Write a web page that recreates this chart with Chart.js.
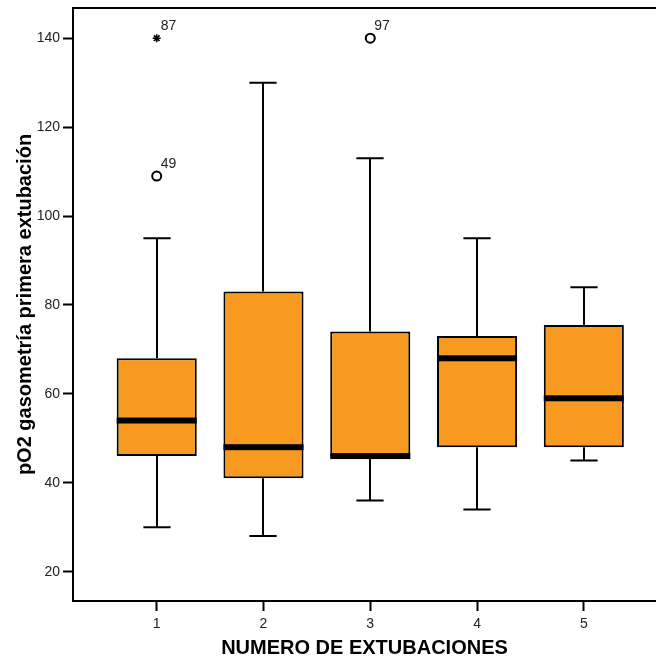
<!DOCTYPE html>
<html>
<head>
<meta charset="utf-8">
<script src="https://cdn.jsdelivr.net/npm/chart.js@4.4.1/dist/chart.umd.min.js"></script>
<style>
  html, body { margin: 0; padding: 0; background: #ffffff; }
  #wrap { width: 656px; height: 660px; }
</style>
</head>
<body>
<div id="wrap"><canvas id="chart"></canvas></div>
<script>
// Number of extubations (groups) and the five-number summary per group
const categories  = [1, 2, 3, 4, 5];
const whiskerLow  = [30, 28, 36, 34, 45];
const q1          = [46, 41, 46, 48, 48];
const median      = [54, 48, 46, 68, 59];
const q3          = [68, 83, 74, 73, 75.5];
const whiskerHigh = [95, 130, 113, 95, 84];

// Outliers: open circles and extreme values (stars), with case numbers
const circleGroup = [1, 3];
const circleValue = [109, 140];
const circleCase  = ['49', '97'];
const starGroup   = [1];
const starValue   = [140];
const starCase    = ['87'];

const yTicks = [20, 40, 60, 80, 100, 120, 140];
const xTicks = [1, 2, 3, 4, 5];

const FONT = "'Liberation Sans', Arial, sans-serif";
Chart.defaults.font.family = FONT;
Chart.defaults.color = '#222222';

// Whiskers, caps, medians, outlier labels and the top frame line
const boxParts = {
  id: 'boxParts',
  beforeDatasetsDraw(chart) {
    const ctx = chart.ctx;
    const y = chart.scales.y;
    const bars = chart.getDatasetMeta(0).data;
    ctx.save();
    ctx.strokeStyle = '#000000';
    ctx.lineWidth = 2;
    bars.forEach((bar, i) => {
      const cx = Math.round(bar.x);
      const half = bar.width * 0.17;
      const yLo = y.getPixelForValue(whiskerLow[i]);
      const yQ1 = y.getPixelForValue(q1[i]);
      const yQ3 = y.getPixelForValue(q3[i]);
      const yHi = y.getPixelForValue(whiskerHigh[i]);
      ctx.beginPath();
      ctx.moveTo(cx, yQ3); ctx.lineTo(cx, yHi);
      ctx.moveTo(cx - half, yHi); ctx.lineTo(cx + half, yHi);
      ctx.moveTo(cx, yQ1); ctx.lineTo(cx, yLo);
      ctx.moveTo(cx - half, yLo); ctx.lineTo(cx + half, yLo);
      ctx.stroke();
    });
    ctx.restore();
  },
  afterDatasetsDraw(chart) {
    const ctx = chart.ctx;
    const x = chart.scales.x;
    const y = chart.scales.y;
    const area = chart.chartArea;
    const bars = chart.getDatasetMeta(0).data;
    ctx.save();
    // median bands
    ctx.fillStyle = '#000000';
    bars.forEach((bar, i) => {
      const ym = y.getPixelForValue(median[i]);
      ctx.fillRect(bar.x - bar.width / 2, ym - 3, bar.width, 6);
    });
    // case numbers next to outliers
    ctx.font = '14px ' + FONT;
    ctx.fillStyle = '#222222';
    ctx.textAlign = 'left';
    ctx.textBaseline = 'alphabetic';
    const label = (g, v, t) => {
      ctx.fillText(t, x.getPixelForValue(g) + 4, y.getPixelForValue(v) - 8);
    };
    circleGroup.forEach((g, i) => label(g, circleValue[i], circleCase[i]));
    starGroup.forEach((g, i) => label(g, starValue[i], starCase[i]));
    // top frame line
    ctx.strokeStyle = '#000000';
    ctx.lineWidth = 2;
    ctx.beginPath();
    ctx.moveTo(area.left - 1, area.top);
    ctx.lineTo(area.right, area.top);
    ctx.stroke();
    ctx.restore();
  }
};

new Chart(document.getElementById('chart'), {
  type: 'bar',
  data: {
    datasets: [
      {
        label: 'pO2',
        data: categories.map((c, i) => ({ x: c, y: [q1[i], q3[i]] })),
        backgroundColor: '#F89A20',
        borderColor: '#000000',
        borderWidth: 2,
        borderSkipped: false,
        barPercentage: 0.75,
        categoryPercentage: 1.0
      },
      {
        type: 'scatter',
        label: 'outliers',
        data: circleGroup.map((g, i) => ({ x: g, y: circleValue[i] })),
        pointStyle: 'circle',
        pointRadius: 4.5,
        pointBorderWidth: 2,
        pointBorderColor: '#000000',
        pointBackgroundColor: '#ffffff'
      },
      {
        type: 'scatter',
        label: 'extremes',
        data: starGroup.map((g, i) => ({ x: g, y: starValue[i] })),
        pointStyle: 'star',
        pointRadius: 4,
        pointBorderWidth: 1.6,
        pointBorderColor: '#000000',
        pointBackgroundColor: '#000000'
      }
    ]
  },
  options: {
    responsive: true,
    maintainAspectRatio: false,
    animation: false,
    events: [],
    layout: { autoPadding: false, padding: { top: 8, right: 0, bottom: 0, left: 0 } },
    plugins: { legend: { display: false }, tooltip: { enabled: false } },
    scales: {
      x: {
        type: 'linear',
        offset: false,
        min: 0.216,
        max: 5.676,
        afterBuildTicks: (s) => { s.ticks = xTicks.map(v => ({ value: v })); },
        afterFit: (s) => { s.height = 59; s.paddingLeft = 0; s.paddingRight = 0; },
        grid: { offset: false, drawOnChartArea: false, drawTicks: true, tickLength: 10, tickColor: '#000000', tickWidth: 2 },
        border: { display: true, color: '#000000', width: 2 },
        ticks: { padding: 5, font: { size: 14 }, color: '#222222', maxRotation: 0 },
        title: {
          display: true,
          text: 'NUMERO DE EXTUBACIONES',
          color: '#000000',
          font: { size: 20, weight: 'bold' },
          padding: { top: 0, bottom: 0 }
        }
      },
      y: {
        type: 'linear',
        min: 13.4,
        max: 146.8,
        afterBuildTicks: (s) => { s.ticks = yTicks.map(v => ({ value: v })); },
        afterFit: (s) => { s.width = 73; s.paddingTop = 0; s.paddingBottom = 0; },
        grid: { drawOnChartArea: false, drawTicks: true, tickLength: 10, tickColor: '#000000', tickWidth: 2 },
        border: { display: true, color: '#000000', width: 2 },
        ticks: { padding: 3, font: { size: 14 }, color: '#222222' },
        title: {
          display: true,
          text: 'pO2 gasometría primera extubación',
          color: '#000000',
          font: { size: 20, weight: 'bold' },
          padding: { top: 13, bottom: 0 }
        }
      }
    }
  },
  plugins: [boxParts]
});
</script>
</body>
</html>
